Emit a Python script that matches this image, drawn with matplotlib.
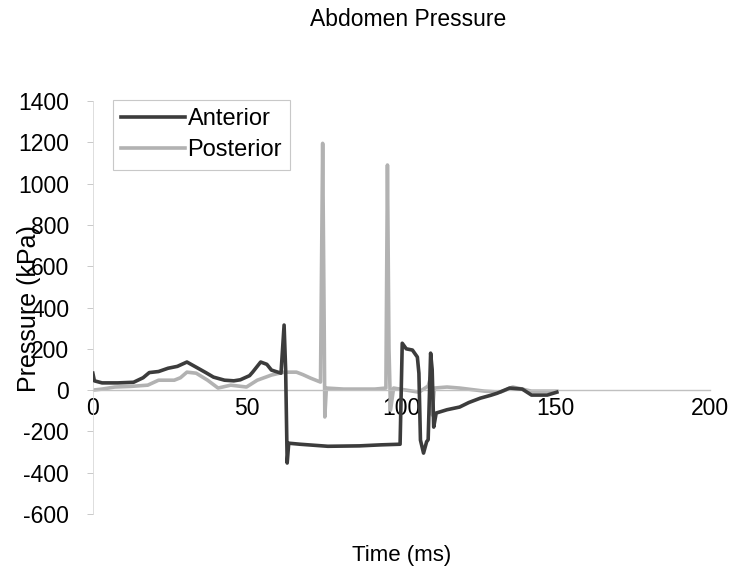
import matplotlib.pyplot as plt

plt.rcParams['font.family'] = ['Liberation Sans', 'DejaVu Sans']
plt.rcParams['axes.unicode_minus'] = False

# anterior sensor (dark)
ant_t = [0, 0.5, 3, 8.1, 13.2, 16.3, 18.3, 21.3, 24.4, 27.4, 30.5, 33.5, 36.6, 39.1,
         42.7, 45.7, 47.8, 50.8, 51.8, 54.4, 56.4, 57.9, 61, 62, 62.5, 63, 63.5, 67.1,
         76.2, 86.4, 93.5, 99.6, 100.3, 101.6, 103.6, 105.2, 105.7, 106.2, 107.2, 108.2,
         108.7, 109.5, 110, 110.5, 111.3, 114.8, 118.9, 121.9, 125.6, 129, 131.1, 135.1,
         139.2, 142.2, 147.3, 150.4]
ant_p = [82, 45, 35, 35, 38, 60, 85, 90, 106, 115, 136, 111, 85, 63,
         48, 45, 50, 70, 87, 136, 125, 97, 82, 315, 100, -353, -257, -262,
         -272, -270, -265, -262, 227, 200, 194, 160, 82, -242, -305, -250,
         -240, 179, 100, -179, -111, -95, -82, -60, -39, -25, -15, 10,
         5, -24, -24, -10]

# posterior sensor (light)
post_t = [0, 3, 7.1, 12.2, 17.8, 21.3, 26.4, 28.4, 30.5, 33.5, 37.2, 40.6, 44.7, 49.8,
          53.3, 57.9, 62, 66, 68.1, 70.6, 73.8, 74.5, 75, 75.2, 75.7, 81.3, 91.4, 95,
          95.5, 96, 96.5, 97.5, 101.6, 105.7, 108.7, 109.5, 110, 110.7, 114.8, 118.9,
          127, 132.1, 136.1, 139.2, 142.2, 150.4]
post_p = [0, 5, 15, 18, 24, 48, 48, 60, 87, 82, 48, 10, 24, 15,
          48, 73, 87, 87, 75, 58, 39, 1195, 300, -130, 10, 5, 5, 10,
          1090, 200, -97, 10, 0, -10, 20, 63, -120, 10, 15, 10,
          -5, -10, 15, 5, -5, -5]

fig = plt.figure(figsize=(7.31, 5.74), dpi=100)
ax = fig.add_axes([0.127, 0.1045, 0.844, 0.7195])

ax.plot(ant_t, ant_p, color='#3c3c3c', lw=2.6, label='Anterior', zorder=3)
ax.plot(post_t, post_p, color='#b2b2b2', lw=2.6, label='Posterior', zorder=2)

ax.set_xlim(0, 200)
ax.set_ylim(-600, 1400)
ax.set_xticks([0, 50, 100, 150, 200])
ax.set_yticks(range(-600, 1401, 200))

ax.spines['top'].set_visible(False)
ax.spines['right'].set_visible(False)
ax.spines['bottom'].set_position(('data', 0))
ax.spines['bottom'].set_color('#c0c0c0')
ax.spines['bottom'].set_linewidth(1.0)
ax.spines['left'].set_color('#d8d8d8')
ax.spines['left'].set_linewidth(0.6)

ax.tick_params(axis='x', length=0, pad=5, labelsize=16.5)
ax.tick_params(axis='y', length=4, color='#c0c0c0', width=0.6, pad=13, labelsize=16.5)

fig.text(0.558, 0.966, 'Abdomen Pressure', ha='center', va='center', fontsize=16.5)
fig.text(0.549, 0.033, 'Time (ms)', ha='center', va='center', fontsize=16)
fig.text(0.04, 0.463, 'Pressure (kPa)', ha='center', va='center', rotation=90, fontsize=18)

leg = ax.legend(loc='upper left', bbox_to_anchor=(0.033, 1.003), fontsize=17,
                handlelength=2.7, handletextpad=0.1, borderpad=0.35, labelspacing=0.4,
                fancybox=False, framealpha=1, borderaxespad=0)
leg.get_frame().set_edgecolor('#c8c8c8')
leg.get_frame().set_linewidth(0.8)

fig.savefig('out.png', dpi=100)
